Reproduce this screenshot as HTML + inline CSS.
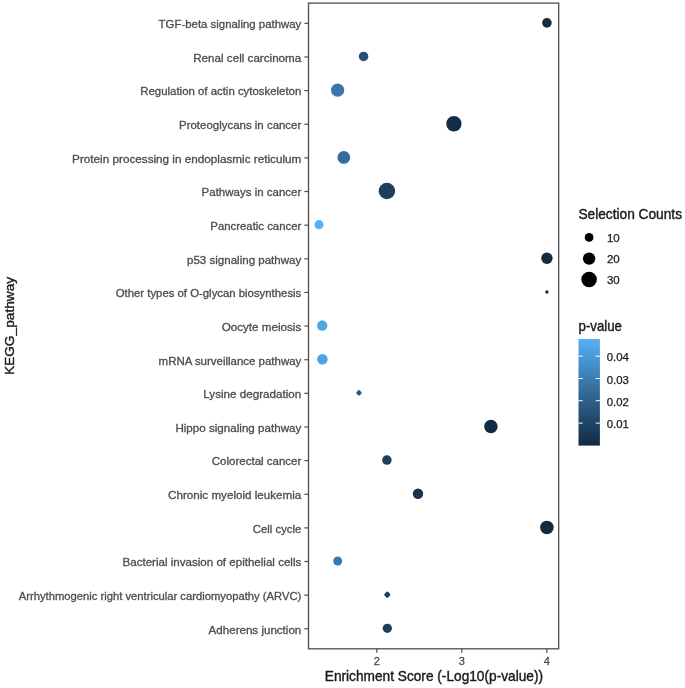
<!DOCTYPE html>
<html lang="en"><head><meta charset="utf-8"><title>KEGG pathway enrichment</title>
<style>
html,body{margin:0;padding:0;background:#fff;}
body{width:685px;height:688px;overflow:hidden;}
svg{display:block;filter:blur(0.45px);}
text{font-family:"Liberation Sans",Arial,Helvetica,sans-serif;}
.ax{font-size:11px;fill:#4d4d4d;stroke:#4d4d4d;stroke-width:0.3px;}
.tt{font-size:14.2px;fill:#1a1a1a;stroke:#1a1a1a;stroke-width:0.4px;}
.lg{font-size:11px;fill:#1a1a1a;stroke:#1a1a1a;stroke-width:0.25px;}
</style></head><body>
<svg width="685" height="688" viewBox="0 0 685 688">
<defs><linearGradient id="pg" x1="0" y1="1" x2="0" y2="0"><stop offset="0" stop-color="#132b43"/><stop offset="0.05" stop-color="#16314b"/><stop offset="0.1" stop-color="#193753"/><stop offset="0.15" stop-color="#1c3d5b"/><stop offset="0.2" stop-color="#1f4364"/><stop offset="0.25" stop-color="#22496c"/><stop offset="0.3" stop-color="#265075"/><stop offset="0.35" stop-color="#29567d"/><stop offset="0.4" stop-color="#2c5d86"/><stop offset="0.45" stop-color="#2f638f"/><stop offset="0.5" stop-color="#336a98"/><stop offset="0.55" stop-color="#3671a1"/><stop offset="0.6" stop-color="#3a78aa"/><stop offset="0.65" stop-color="#3d7fb4"/><stop offset="0.7" stop-color="#4186bd"/><stop offset="0.75" stop-color="#448dc6"/><stop offset="0.8" stop-color="#4894d0"/><stop offset="0.85" stop-color="#4b9bda"/><stop offset="0.9" stop-color="#4fa2e3"/><stop offset="0.95" stop-color="#52aaed"/><stop offset="1" stop-color="#56b1f7"/></linearGradient></defs>
<rect x="0" y="0" width="685" height="688" fill="#ffffff"/>
<rect x="308.5" y="3.1" width="250.2" height="645.7" fill="none" stroke="#4d4d4d" stroke-width="1.3"/>
<line x1="304.4" y1="23.35" x2="308.5" y2="23.35" stroke="#4d4d4d" stroke-width="1.2"/>
<text class="ax" x="301.3" y="28.15" text-anchor="end" textLength="142.7" lengthAdjust="spacingAndGlyphs">TGF-beta signaling pathway</text>
<line x1="304.4" y1="56.98" x2="308.5" y2="56.98" stroke="#4d4d4d" stroke-width="1.2"/>
<text class="ax" x="301.3" y="61.78" text-anchor="end" textLength="108.1" lengthAdjust="spacingAndGlyphs">Renal cell carcinoma</text>
<line x1="304.4" y1="90.62" x2="308.5" y2="90.62" stroke="#4d4d4d" stroke-width="1.2"/>
<text class="ax" x="301.3" y="95.42" text-anchor="end" textLength="161.0" lengthAdjust="spacingAndGlyphs">Regulation of actin cytoskeleton</text>
<line x1="304.4" y1="124.25" x2="308.5" y2="124.25" stroke="#4d4d4d" stroke-width="1.2"/>
<text class="ax" x="301.3" y="129.06" text-anchor="end" textLength="122.3" lengthAdjust="spacingAndGlyphs">Proteoglycans in cancer</text>
<line x1="304.4" y1="157.89" x2="308.5" y2="157.89" stroke="#4d4d4d" stroke-width="1.2"/>
<text class="ax" x="301.3" y="162.69" text-anchor="end" textLength="229.2" lengthAdjust="spacingAndGlyphs">Protein processing in endoplasmic reticulum</text>
<line x1="304.4" y1="191.52" x2="308.5" y2="191.52" stroke="#4d4d4d" stroke-width="1.2"/>
<text class="ax" x="301.3" y="196.32" text-anchor="end" textLength="99.7" lengthAdjust="spacingAndGlyphs">Pathways in cancer</text>
<line x1="304.4" y1="225.16" x2="308.5" y2="225.16" stroke="#4d4d4d" stroke-width="1.2"/>
<text class="ax" x="301.3" y="229.96" text-anchor="end" textLength="91.0" lengthAdjust="spacingAndGlyphs">Pancreatic cancer</text>
<line x1="304.4" y1="258.80" x2="308.5" y2="258.80" stroke="#4d4d4d" stroke-width="1.2"/>
<text class="ax" x="301.3" y="263.60" text-anchor="end" textLength="114.3" lengthAdjust="spacingAndGlyphs">p53 signaling pathway</text>
<line x1="304.4" y1="292.43" x2="308.5" y2="292.43" stroke="#4d4d4d" stroke-width="1.2"/>
<text class="ax" x="301.3" y="297.23" text-anchor="end" textLength="185.6" lengthAdjust="spacingAndGlyphs">Other types of O-glycan biosynthesis</text>
<line x1="304.4" y1="326.06" x2="308.5" y2="326.06" stroke="#4d4d4d" stroke-width="1.2"/>
<text class="ax" x="301.3" y="330.87" text-anchor="end" textLength="79.6" lengthAdjust="spacingAndGlyphs">Oocyte meiosis</text>
<line x1="304.4" y1="359.70" x2="308.5" y2="359.70" stroke="#4d4d4d" stroke-width="1.2"/>
<text class="ax" x="301.3" y="364.50" text-anchor="end" textLength="142.7" lengthAdjust="spacingAndGlyphs">mRNA surveillance pathway</text>
<line x1="304.4" y1="393.33" x2="308.5" y2="393.33" stroke="#4d4d4d" stroke-width="1.2"/>
<text class="ax" x="301.3" y="398.13" text-anchor="end" textLength="98.0" lengthAdjust="spacingAndGlyphs">Lysine degradation</text>
<line x1="304.4" y1="426.97" x2="308.5" y2="426.97" stroke="#4d4d4d" stroke-width="1.2"/>
<text class="ax" x="301.3" y="431.77" text-anchor="end" textLength="125.9" lengthAdjust="spacingAndGlyphs">Hippo signaling pathway</text>
<line x1="304.4" y1="460.61" x2="308.5" y2="460.61" stroke="#4d4d4d" stroke-width="1.2"/>
<text class="ax" x="301.3" y="465.41" text-anchor="end" textLength="89.5" lengthAdjust="spacingAndGlyphs">Colorectal cancer</text>
<line x1="304.4" y1="494.24" x2="308.5" y2="494.24" stroke="#4d4d4d" stroke-width="1.2"/>
<text class="ax" x="301.3" y="499.04" text-anchor="end" textLength="133.2" lengthAdjust="spacingAndGlyphs">Chronic myeloid leukemia</text>
<line x1="304.4" y1="527.88" x2="308.5" y2="527.88" stroke="#4d4d4d" stroke-width="1.2"/>
<text class="ax" x="301.3" y="532.67" text-anchor="end" textLength="48.5" lengthAdjust="spacingAndGlyphs">Cell cycle</text>
<line x1="304.4" y1="561.51" x2="308.5" y2="561.51" stroke="#4d4d4d" stroke-width="1.2"/>
<text class="ax" x="301.3" y="566.31" text-anchor="end" textLength="178.8" lengthAdjust="spacingAndGlyphs">Bacterial invasion of epithelial cells</text>
<line x1="304.4" y1="595.14" x2="308.5" y2="595.14" stroke="#4d4d4d" stroke-width="1.2"/>
<text class="ax" x="301.3" y="599.94" text-anchor="end" textLength="282.6" lengthAdjust="spacingAndGlyphs">Arrhythmogenic right ventricular cardiomyopathy (ARVC)</text>
<line x1="304.4" y1="628.78" x2="308.5" y2="628.78" stroke="#4d4d4d" stroke-width="1.2"/>
<text class="ax" x="301.3" y="633.58" text-anchor="end" textLength="92.7" lengthAdjust="spacingAndGlyphs">Adherens junction</text>
<line x1="376.8" y1="648.8" x2="376.8" y2="652.7" stroke="#4d4d4d" stroke-width="1.2"/>
<text class="ax" x="376.8" y="665.3" text-anchor="middle">2</text>
<line x1="461.8" y1="648.8" x2="461.8" y2="652.7" stroke="#4d4d4d" stroke-width="1.2"/>
<text class="ax" x="461.8" y="665.3" text-anchor="middle">3</text>
<line x1="546.8" y1="648.8" x2="546.8" y2="652.7" stroke="#4d4d4d" stroke-width="1.2"/>
<text class="ax" x="546.8" y="665.3" text-anchor="middle">4</text>
<circle cx="546.9" cy="22.85" r="4.80" fill="#132b43"/>
<circle cx="363.6" cy="56.48" r="4.75" fill="#254f74"/>
<circle cx="337.6" cy="90.12" r="6.65" fill="#3a78ab"/>
<circle cx="453.9" cy="123.75" r="7.65" fill="#142e47"/>
<circle cx="343.8" cy="157.39" r="6.35" fill="#336b9a"/>
<circle cx="386.9" cy="191.02" r="8.25" fill="#1d3e5c"/>
<circle cx="319" cy="224.66" r="4.55" fill="#56b1f7"/>
<circle cx="546.9" cy="258.30" r="5.70" fill="#132b43"/>
<circle cx="546.9" cy="291.93" r="1.70" fill="#132b43"/>
<circle cx="322.2" cy="325.56" r="5.20" fill="#50a5e7"/>
<circle cx="322.4" cy="359.20" r="5.30" fill="#50a4e6"/>
<rect x="356.74" y="390.57" width="4.52" height="4.52" rx="1.27" transform="rotate(45 359 392.83)" fill="#28557b"/>
<circle cx="490.9" cy="426.47" r="6.75" fill="#132c44"/>
<circle cx="386.9" cy="460.11" r="4.75" fill="#1d3e5c"/>
<circle cx="418" cy="493.74" r="5.20" fill="#17334e"/>
<circle cx="546.9" cy="527.38" r="6.75" fill="#132b43"/>
<circle cx="337.7" cy="561.01" r="4.45" fill="#3a78ab"/>
<rect x="384.73" y="592.07" width="5.15" height="5.15" rx="1.44" transform="rotate(45 387.3 594.64)" fill="#1c3e5c"/>
<circle cx="387.3" cy="628.28" r="4.65" fill="#1c3e5c"/>
<text class="tt" x="433.9" y="681" text-anchor="middle" textLength="218.2" lengthAdjust="spacingAndGlyphs">Enrichment Score (-Log10(p-value))</text>
<text class="tt" style="font-size:13.3px" transform="translate(14.4,325.95) rotate(-90)" text-anchor="middle" textLength="98.3" lengthAdjust="spacingAndGlyphs">KEGG_pathway</text>
<text class="tt" x="578.4" y="219.0" textLength="103.6" lengthAdjust="spacingAndGlyphs">Selection Counts</text>
<circle cx="589.1" cy="237.4" r="4.4" fill="#000"/>
<text class="lg" x="606.9" y="242" textLength="12.8" lengthAdjust="spacingAndGlyphs">10</text>
<circle cx="589.1" cy="258.6" r="6.2" fill="#000"/>
<text class="lg" x="606.9" y="263.2" textLength="12.8" lengthAdjust="spacingAndGlyphs">20</text>
<circle cx="589.1" cy="279.4" r="7.75" fill="#000"/>
<text class="lg" x="606.9" y="284" textLength="12.8" lengthAdjust="spacingAndGlyphs">30</text>
<text class="tt" x="578.6" y="330.8" textLength="43.4" lengthAdjust="spacingAndGlyphs">p-value</text>
<rect x="578.5" y="339" width="21.4" height="106.6" fill="url(#pg)"/>
<line x1="578.5" y1="356.2" x2="582.7" y2="356.2" stroke="#fff" stroke-width="1"/><line x1="595.7" y1="356.2" x2="599.9" y2="356.2" stroke="#fff" stroke-width="1"/>
<text class="lg" x="606.7" y="361.4" textLength="22.2" lengthAdjust="spacingAndGlyphs">0.04</text>
<line x1="578.5" y1="378.5" x2="582.7" y2="378.5" stroke="#fff" stroke-width="1"/><line x1="595.7" y1="378.5" x2="599.9" y2="378.5" stroke="#fff" stroke-width="1"/>
<text class="lg" x="606.7" y="383.7" textLength="22.2" lengthAdjust="spacingAndGlyphs">0.03</text>
<line x1="578.5" y1="400.7" x2="582.7" y2="400.7" stroke="#fff" stroke-width="1"/><line x1="595.7" y1="400.7" x2="599.9" y2="400.7" stroke="#fff" stroke-width="1"/>
<text class="lg" x="606.7" y="405.9" textLength="22.2" lengthAdjust="spacingAndGlyphs">0.02</text>
<line x1="578.5" y1="423.1" x2="582.7" y2="423.1" stroke="#fff" stroke-width="1"/><line x1="595.7" y1="423.1" x2="599.9" y2="423.1" stroke="#fff" stroke-width="1"/>
<text class="lg" x="606.7" y="428.3" textLength="22.2" lengthAdjust="spacingAndGlyphs">0.01</text>
</svg>
</body></html>
